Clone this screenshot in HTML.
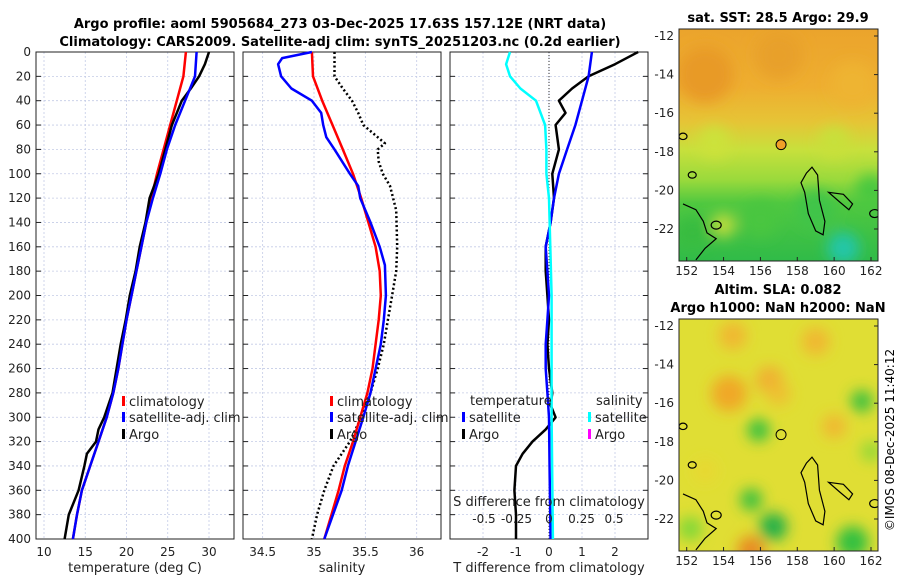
<!DOCTYPE html>
<html><head><meta charset="utf-8"><style>
html,body{margin:0;padding:0;background:#fff;}
svg{display:block;font-family:"DejaVu Sans","Liberation Sans",sans-serif;}
</style></head><body>
<svg id="fig" width="900" height="580" viewBox="0 0 900 580">
<defs>
<filter id="blur" x="-20%" y="-20%" width="140%" height="140%"><feGaussianBlur stdDeviation="7"/></filter>
<clipPath id="m1clip"><rect x="679" y="29" width="199" height="232"/></clipPath>
<clipPath id="m2clip"><rect x="679" y="319" width="199" height="232"/></clipPath>
<linearGradient id="sstg" x1="0" y1="0" x2="0" y2="1">
<stop offset="0" stop-color="#eba42c"/><stop offset="0.25" stop-color="#eeae30"/><stop offset="0.4" stop-color="#e6c436"/><stop offset="0.52" stop-color="#c8e03c"/><stop offset="0.65" stop-color="#9ada3c"/><stop offset="0.75" stop-color="#50c840"/><stop offset="1" stop-color="#30bb48"/>
</linearGradient>
</defs>
<g id="titles">
<text x="340" y="28" text-anchor="middle" font-size="13" font-weight="bold">Argo profile: aoml 5905684_273 03-Dec-2025 17.63S 157.12E (NRT data)</text>
<text x="340" y="46" text-anchor="middle" font-size="13" font-weight="bold">Climatology: CARS2009. Satellite-adj clim: synTS_20251203.nc (0.2d earlier)</text>
<text x="778" y="22" text-anchor="middle" font-size="13" font-weight="bold">sat. SST: 28.5 Argo: 29.9</text>
<text x="778" y="294" text-anchor="middle" font-size="13" font-weight="bold">Altim. SLA: 0.082</text>
<text x="778" y="312" text-anchor="middle" font-size="13" font-weight="bold">Argo h1000: NaN h2000: NaN</text>
<text transform="translate(894,440) rotate(-90)" text-anchor="middle" font-size="12">©IMOS 08-Dec-2025 11:40:12</text>
</g>
<g id="plots"></g>
<g id="maps"></g>
</svg>
<script>
// ---- profile data ----
const depths = [0,20,40,60,80,100,120,140,160,180,200,220,240,260,280,300,320,340,360,380,400];
const tempClim = [27.2,26.9,26.1,25.3,24.5,23.7,23.0,22.4,21.8,21.2,20.6,20.0,19.5,19.0,18.4,17.6,16.6,15.6,14.6,14.0,13.5];
const tempSatDepths = [0,20,40,60,80,100,120,140,160,180,200,220,240,260,280,300,320,340,360,380,400];
const tempSat = [28.5,28.3,27.1,25.9,24.9,24.1,23.2,22.4,21.8,21.2,20.6,20.0,19.5,19.0,18.4,17.6,16.6,15.6,14.6,14.0,13.5];
const argoDepths = [0,10,20,30,40,60,80,100,120,140,160,180,200,220,240,260,280,300,310,320,330,340,360,380,400];
const tempArgo = [30.0,29.5,28.8,27.8,26.7,25.5,24.7,23.9,22.8,22.3,21.6,21.1,20.4,19.9,19.3,18.8,18.3,17.3,16.6,16.3,15.2,14.9,14.2,13.0,12.5];
const salClim = [34.98,34.99,35.08,35.18,35.28,35.38,35.46,35.53,35.6,35.64,35.65,35.63,35.6,35.57,35.52,35.45,35.38,35.3,35.24,35.17,35.1];
const salSatDepths = [0,5,10,20,30,40,50,60,70,80,100,110,120,140,160,175,200,220,240,280,300,340,360,400];
const salSat = [34.98,34.69,34.65,34.68,34.78,34.98,35.07,35.09,35.12,35.2,35.35,35.43,35.45,35.55,35.64,35.69,35.7,35.68,35.65,35.55,35.48,35.33,35.27,35.1];
const salArgoDepths = [0,20,30,40,50,60,75,80,90,100,110,130,160,180,200,220,240,260,280,300,320,340,360,380,400];
const salArgo = [35.2,35.2,35.28,35.37,35.43,35.48,35.69,35.62,35.63,35.67,35.74,35.8,35.81,35.8,35.76,35.72,35.68,35.62,35.55,35.46,35.35,35.19,35.1,35.03,34.98];
const tdSatDepths = [0,20,40,60,80,100,120,140,160,180,200,220,240,260,280,300,350,400];
const tdSat = [1.3,1.2,1.0,0.8,0.55,0.3,0.15,0.05,-0.1,-0.05,0,-0.05,-0.1,-0.1,-0.05,0,0.02,0.05];
const tdArgoDepths = [0,10,20,30,40,50,60,80,100,120,140,160,180,200,220,240,260,280,290,300,310,320,330,340,360,380,400];
const tdArgo = [2.7,2.0,1.2,0.7,0.3,0.5,0.2,0.3,0.1,0.15,0.05,-0.1,-0.1,-0.05,0,-0.05,0,0.1,0.05,0.2,-0.1,-0.5,-0.8,-1.0,-1.05,-1.0,-1.0];
const sdSatDepths = [0,10,20,30,40,60,80,100,120,160,200,300,400];
const sdSat = [-0.3,-0.33,-0.3,-0.22,-0.1,-0.03,-0.02,-0.02,0,0.01,0.02,0.02,0.03];
const depthTicks = [0,20,40,60,80,100,120,140,160,180,200,220,240,260,280,300,320,340,360,380,400];
const tempTicks = [10,15,20,25,30];
const salTicks = [34.5,35,35.5,36];
const tdTicks = [-2,-1,0,1,2];
const sdTicks = [-0.5,-0.25,0,0.25,0.5];
const sdTickLabels = ["-0.5","-0.25","0","0.25","0.5"];
const lonTicks = [152,154,156,158,160,162];
const latTicks = [-12,-14,-16,-18,-20,-22];

const NS='http://www.w3.org/2000/svg';
const plots=document.getElementById('plots');
const maps=document.getElementById('maps');
function el(tag,attrs,parent){const e=document.createElementNS(NS,tag);for(const k in attrs)e.setAttribute(k,attrs[k]);(parent||plots).appendChild(e);return e;}
const top0=52, bot0=539;
function yD(d){return top0+(d/400)*(bot0-top0);}
const panels=[{x0:36,x1:234},{x0:243,x1:441},{x0:450,x1:648}];
function xT(v){return 44+(v-10)*8.25;}
function xS(v){return 314+(v-35)*102.7;}
function xTD(v){return 549+v*33;}
function xSD(v){return 549+v*130;}

panels.forEach((p,i)=>{
  const g=el('g',{});
  
  
  depthTicks.forEach(d=>{
    const l=el('line',{x1:p.x0,x2:p.x1,y1:yD(d),y2:yD(d),stroke:'#c4cbe6','stroke-width':0.8,'stroke-dasharray':'2,2'},g);
    
    
    el('line',{x1:p.x0,x2:p.x0+5,y1:yD(d),y2:yD(d),stroke:'#222'},g);
    el('line',{x1:p.x1-5,x2:p.x1,y1:yD(d),y2:yD(d),stroke:'#222'},g);
  });
  const fn=[xT,xS,xTD][i], tk=[tempTicks,salTicks,tdTicks][i];
  tk.forEach(v=>{
    const l=el('line',{x1:fn(v),x2:fn(v),y1:top0,y2:bot0,stroke:'#c4cbe6','stroke-width':0.8,'stroke-dasharray':'2,2'},g);
    
    
    const t=el('text',{x:fn(v),y:556,'text-anchor':'middle','font-size':12,fill:'#222'},g);
    t.textContent=String(v);
    
    
  });
  const f=el('rect',{x:p.x0,y:top0,width:p.x1-p.x0,height:bot0-top0,fill:'none',stroke:'#222','stroke-width':1},g);
  
  
});
depthTicks.forEach(d=>{
  const t=el('text',{x:31,y:yD(d)+4,'text-anchor':'end','font-size':12,fill:'#222'});
  t.textContent=String(d);
  
  
});
[['temperature (deg C)',135],['salinity',342],['T difference from climatology',549]].forEach(a=>{
  const t=el('text',{x:a[1],y:572,'text-anchor':'middle','font-size':13,fill:'#222'});
  t.textContent=a[0];
  
  
});
const z=el('line',{x1:549,x2:549,y1:top0,y2:bot0,stroke:'#333','stroke-width':1,'stroke-dasharray':'1,2'});



function line(ds,vs,fx,color,w,name,dash){
  const pts=ds.map((d,i)=>fx(vs[i]).toFixed(1)+','+yD(d).toFixed(1)).join(' ');
  const a={points:pts,fill:'none',stroke:color,'stroke-width':w,'stroke-linejoin':'round'};
  if(dash)a['stroke-dasharray']=dash;
  const p=el('polyline',a);
  
  
}
line(depths,tempClim,xT,'#ff0000',2.5,'temp-climatology-line');
line(argoDepths,tempArgo,xT,'#000',2.5,'temp-argo-line');
line(tempSatDepths,tempSat,xT,'#0000ff',2.5,'temp-satellite-line');
line(salArgoDepths,salArgo,xS,'#000',2.5,'salinity-argo-line','2,2.5');
line(depths,salClim,xS,'#ff0000',2.5,'salinity-climatology-line');
line(salSatDepths,salSat,xS,'#0000ff',2.5,'salinity-satellite-line');
line(tdArgoDepths,tdArgo,xTD,'#000',2.5,'tdiff-argo-line');
line(tdSatDepths,tdSat,xTD,'#0000ff',2.5,'tdiff-satellite-line');
line(sdSatDepths,sdSat,xSD,'#00ffff',2.5,'sdiff-satellite-line');

const sdt=el('text',{x:549,y:506,'text-anchor':'middle','font-size':13,fill:'#222'});
sdt.textContent='S difference from climatology';


sdTicks.forEach((v,i)=>{
  const t=el('text',{x:xSD(v),y:523,'text-anchor':'middle','font-size':12,fill:'#222'});
  t.textContent=sdTickLabels[i];
  
  
});

function legend(x,y,color,label,name){
  const g=el('g',{});
  
  
  if(color)el('rect',{x:x,y:y-10,width:3,height:10,fill:color},g);
  const t=el('text',{x:x+(color?7:0),y:y,'font-size':13,fill:'#222'},g);
  t.textContent=label;
}
legend(122,406,'#ff0000','climatology','legend-temp-climatology');
legend(122,422,'#0000ff','satellite-adj. clim','legend-temp-satellite');
legend(122,439,'#000','Argo','legend-temp-argo');
legend(330,406,'#ff0000','climatology','legend-sal-climatology');
legend(330,422,'#0000ff','satellite-adj. clim','legend-sal-satellite');
legend(330,439,'#000','Argo','legend-sal-argo');
legend(470,405,null,'temperature','legend-tdiff-header');
legend(462,422,'#0000ff','satellite','legend-tdiff-satellite');
legend(462,439,'#000','Argo','legend-tdiff-argo');
legend(596,405,null,'salinity','legend-sdiff-header');
legend(588,422,'#00ffff','satellite','legend-sdiff-satellite');
legend(588,439,'#ff00ff','Argo','legend-sdiff-argo');

// ---- maps ----
function mx(lon){return 686.7+(lon-152)*18.43;}
function my(lat,top){return top+(-12-lat)*19.3;}
const sstBlobs=[[153,-14,'#e89a28',28],[157,-13,'#e8a02a',24],[161,-14.5,'#eeb432',22],[160.5,-23,'#20c6a8',16],[152.3,-22.2,'#38bc40',16],[154,-21.8,'#c0dc3c',12],[162,-20,'#48c840',16],[159,-21,'#40c448',20],[156,-21.5,'#48c640',18],[153.5,-17.5,'#cce23a',16],[160,-17.5,'#c8e03a',16]];
const slaBlobs=[[154.3,-15.5,'#f0a828',18],[156.5,-14.8,'#f0b030',14],[160,-17.2,'#f0b830',12],[155.5,-23.6,'#e88a20',14],[154.5,-12.5,'#f0b830',14],[159,-12.8,'#f0b830',14],[157,-15.5,'#eec030',12],[155.9,-17.4,'#30c040',11],[161.5,-15.9,'#38c040',11],[156.7,-22.4,'#20b048',14],[155.5,-21,'#38c040',11],[161,-23.2,'#30c040',16],[152.2,-22.5,'#80d838',12],[162,-18.5,'#90d838',10],[153,-19.5,'#e8d832',12]];
const coastPts=[[151.8,-20.7],[152.5,-21],[152.9,-21.6],[153.1,-22.2],[153.6,-22.5],[153,-23],[152.5,-23.6]];
const islandPts=[[158.5,-19.1],[158.8,-18.8],[159.1,-19.2],[159.2,-20.5],[159.5,-21.6],[159.4,-22.3],[159,-22.1],[158.6,-21.2],[158.4,-20.1],[158.2,-19.6]];
const islandPts2=[[159.7,-20.1],[160.5,-20.2],[161,-20.7],[160.8,-21],[160.3,-20.6]];
function drawMap(top,clipId,blobs,isSST,name){
  const g=el('g',{'clip-path':'url(#'+clipId+')'},maps);
  
  
  el('rect',{x:679,y:top,width:199,height:232,fill:isSST?'url(#sstg)':'#e0de34'},g);
  const bg=el('g',{filter:'url(#blur)'},g);
  blobs.forEach(b=>{el('circle',{cx:mx(b[0]),cy:my(b[1],top+7),r:b[3],fill:b[2]},bg);});
  const path=(pts)=>pts.map((p,i)=>(i?'L':'M')+mx(p[0]).toFixed(1)+','+my(p[1],top+7).toFixed(1)).join(' ');
  el('path',{d:path(coastPts),fill:'none',stroke:'#000','stroke-width':1.2},g);
  el('path',{d:path(islandPts)+'Z',fill:'none',stroke:'#000','stroke-width':1.2},g);
  el('path',{d:path(islandPts2)+'Z',fill:'none',stroke:'#000','stroke-width':1.2},g);
  [[152.3,-19.2,4],[153.6,-21.8,5],[162.2,-21.2,5],[151.8,-17.2,4]].forEach(c=>el('ellipse',{cx:mx(c[0]),cy:my(c[1],top+7),rx:c[2],ry:c[2]*0.8,fill:'none',stroke:'#000','stroke-width':1.2},g));
  const m=el('circle',{cx:mx(157.12),cy:my(-17.63,top+7),r:5,fill:isSST?'#f0a028':'none',stroke:'#000','stroke-width':1},maps);
  
  
  const f=el('rect',{x:679,y:top,width:199,height:232,fill:'none',stroke:'#222'},maps);
  
  
  lonTicks.forEach(v=>{
    const t=el('text',{x:mx(v),y:top+246,'text-anchor':'middle','font-size':12,fill:'#222'},maps);
    t.textContent=String(v);
    
    
    el('line',{x1:mx(v),x2:mx(v),y1:top+232,y2:top+228,stroke:'#222'},maps);
  });
  latTicks.forEach(v=>{
    const t=el('text',{x:674,y:my(v,top+7)+4,'text-anchor':'end','font-size':12,fill:'#222'},maps);
    t.textContent=String(v);
    
    
    el('line',{x1:874,x2:878,y1:my(v,top+7),y2:my(v,top+7),stroke:'#222'},maps);
  });
}
drawMap(29,'m1clip',sstBlobs,true,'sst-map');
drawMap(319,'m2clip',slaBlobs,false,'sla-map');
</script>
</body></html>
